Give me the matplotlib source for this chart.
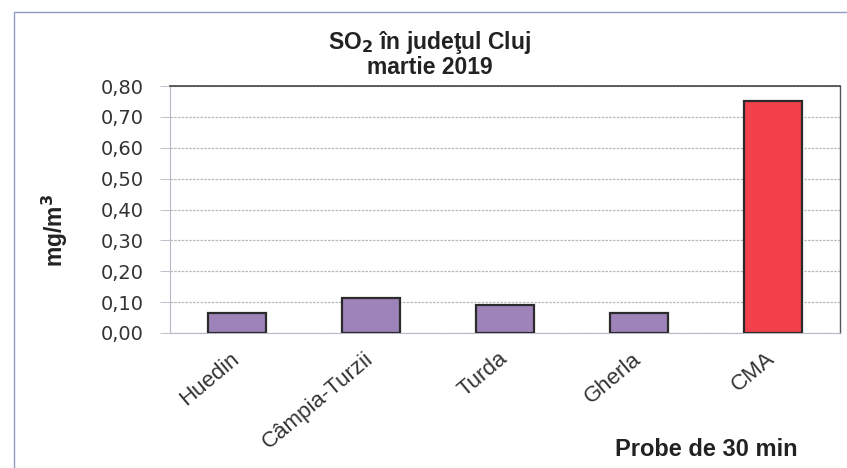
import matplotlib.pyplot as plt
import matplotlib.transforms as mtransforms
from matplotlib.patches import Rectangle
from matplotlib.ticker import FuncFormatter

# data (mg/m3, 30 min samples)
stations = ["Huedin", "Câmpia-Turzii", "Turda", "Gherla", "CMA"]
so2_values = [0.066, 0.113, 0.091, 0.064, 0.750]
bar_colors = ["#9d83b8", "#9d83b8", "#9d83b8", "#9d83b8", "#f2414a"]
y_ticks = [0.0, 0.1, 0.2, 0.3, 0.4, 0.5, 0.6, 0.7, 0.8]

plt.rcParams["font.family"] = ["Liberation Sans", "DejaVu Sans"]

fig = plt.figure(figsize=(8.47, 4.68), dpi=100)
fig.patch.set_facecolor("white")

# outer chart frame (left + top edges visible in the scan)
fig.add_artist(Rectangle((14 / 847, -0.05), 1.0, 1 - 12 / 468 + 0.05,
                         transform=fig.transFigure, fill=False,
                         edgecolor="#8f9cc4", linewidth=1.0))

ax = fig.add_axes([170 / 847, 1 - 333 / 468, (840 - 170) / 847, (333 - 86) / 468])

x = range(len(stations))
ax.bar(x, so2_values, width=0.43, color=bar_colors,
       edgecolor="#2b2b2b", linewidth=1.6, zorder=3)

ax.set_xlim(-0.5, len(stations) - 0.5)
ax.set_ylim(0, 0.8)
ax.set_yticks(y_ticks)
ax.yaxis.set_major_formatter(FuncFormatter(lambda v, p: f"{v:.2f}".replace(".", ",")))
ax.set_xticks(list(x))
ax.tick_params(axis="y", labelsize=14, colors="#333333", length=7, width=0.6,
               color="#b8b8c8", pad=12)
ax.tick_params(axis="x", length=0, pad=11)
ax.set_xticklabels(stations, rotation=40, ha="right", rotation_mode="anchor",
                   fontsize=16, color="#333333")
for lab in ax.get_yticklabels():
    lab.set_family(["DejaVu Sans"])

# nudge the slanted labels left, as in the original
shift = mtransforms.ScaledTranslation(-7 / 100, 0, fig.dpi_scale_trans)
for lab in ax.get_xticklabels():
    lab.set_transform(lab.get_transform() + shift)

ax.grid(axis="y", color="#b8b8c4", linestyle=(0, (2, 1)), linewidth=0.9, zorder=0)
for side in ["left", "bottom"]:
    ax.spines[side].set_color("#b8b8c8")
    ax.spines[side].set_linewidth(0.8)
ax.spines["top"].set_color("#444444")
ax.spines["top"].set_linewidth(1.2)
ax.spines["right"].set_color("#555555")
ax.spines["right"].set_linewidth(1.0)

fig.text(430 / 847, 1 - 43 / 468, "SO$_\\mathbf{2}$ în judeţul Cluj",
         ha="center", va="center", fontsize=16.5, fontweight="bold", color="#222222")
fig.text(430 / 847, 1 - 68 / 468, "martie 2019",
         ha="center", va="center", fontsize=16.5, fontweight="bold", color="#222222")
fig.text(55 / 847, 1 - 230 / 468, "mg/m$^\\mathbf{3}$", rotation=90,
         ha="center", va="center", fontsize=16.5, fontweight="bold", color="#222222")
fig.text(706 / 847, 1 - 450 / 468, "Probe de 30 min",
         ha="center", va="center", fontsize=17, fontweight="bold", color="#222222")

fig.savefig("out.png", dpi=100)
